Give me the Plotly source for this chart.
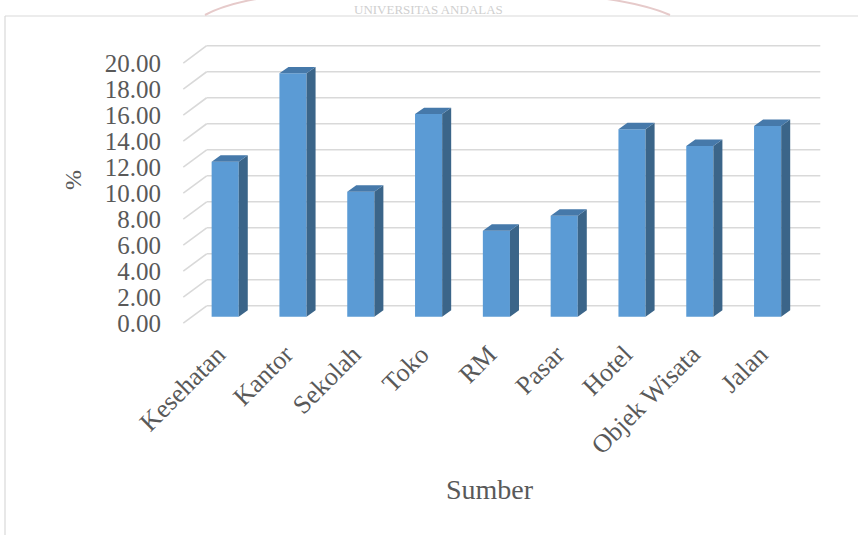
import plotly.graph_objects as go

# ---- data ----
categories = ["Kesehatan", "Kantor", "Sekolah", "Toko", "RM", "Pasar", "Hotel", "Objek Wisata", "Jalan"]
values = [11.92, 18.72, 9.62, 15.59, 6.62, 7.77, 14.42, 13.13, 14.67]
y_ticks = [0, 2, 4, 6, 8, 10, 12, 14, 16, 18, 20]
y_tick_labels = ["%.2f" % v for v in y_ticks]
x_title = "Sumber"
y_title = "%"
watermark = "UNIVERSITAS ANDALAS"

# ---- styling / geometry ----
FRONT = "#5B9BD5"
SIDE = "#3B6589"
TOP = "#4679AA"
GRID = "#D9D9D9"
TEXT = "#595959"
FONT = "Liberation Serif"

W, H = 858, 535
ML, MR, MT, MB = 170, 28, 30, 205
PW, PH = W - ML - MR, H - MT - MB
X_RANGE = [-0.814, 8.92]
Y_RANGE = [-1.02, 22.05]

HALF = 0.2            # half bar width (category units)
BDX, BDY = 0.133, 0.49    # bar depth offset
WDX, WDY = 0.227, 0.84    # back wall offset from bar front plane
FDX, FDY = -0.118, -0.49  # front floor edge offset
LABEL_SHIFT = -0.11       # category label offset (perspective)


def xp(px):
    return (px - ML) / PW


def yp(py):
    return (H - MB - py) / PH


n = len(categories)
xs = list(range(n))

fig = go.Figure()

# front faces
fig.add_trace(go.Bar(x=xs, y=values, width=2 * HALF, marker=dict(color=FRONT, line=dict(width=0)),
                     showlegend=False, hoverinfo="skip"))

# side faces
sx, sy = [], []
for i, v in zip(xs, values):
    r = i + HALF
    sx += [r, r + BDX, r + BDX, r, r, None]
    sy += [0, BDY, v + BDY, v, 0, None]
fig.add_trace(go.Scatter(x=sx, y=sy, mode="lines", fill="toself", fillcolor=SIDE,
                         line=dict(width=0, color=SIDE), showlegend=False, hoverinfo="skip"))

# top faces
tx, ty = [], []
for i, v in zip(xs, values):
    l, r = i - HALF, i + HALF
    tx += [l, l + BDX, r + BDX, r, l, None]
    ty += [v, v + BDY, v + BDY, v, v, None]
fig.add_trace(go.Scatter(x=tx, y=ty, mode="lines", fill="toself", fillcolor=TOP,
                         line=dict(width=0, color=TOP), showlegend=False, hoverinfo="skip"))

# 3D gridlines (back wall + side floor edge)
shapes = []
x_left = -0.5
x_right = n - 0.5
for v in y_ticks:
    shapes.append(dict(type="line", xref="x", yref="y", layer="below",
                       x0=x_left + WDX, y0=v + WDY, x1=x_right + WDX + 0.05, y1=v + WDY,
                       line=dict(color=GRID, width=1.6)))
    shapes.append(dict(type="line", xref="x", yref="y", layer="below",
                       x0=x_left + FDX, y0=v + FDY, x1=x_left + WDX, y1=v + WDY,
                       line=dict(color=GRID, width=1.6)))

# chart border (top + left)
BORDER_Y = 16
shapes.append(dict(type="line", xref="paper", yref="paper", x0=xp(5), y0=yp(BORDER_Y), x1=xp(W + 5), y1=yp(BORDER_Y),
                   line=dict(color=GRID, width=1.2)))
shapes.append(dict(type="line", xref="paper", yref="paper", x0=xp(5), y0=yp(BORDER_Y), x1=xp(5), y1=yp(H + 5),
                   line=dict(color=GRID, width=1.2)))
# watermark seal arcs
shapes.append(dict(type="path", xref="paper", yref="paper",
                   path="M %f %f Q %f %f %f %f" % (xp(205), yp(BORDER_Y - 1), xp(225), yp(4), xp(262), yp(-2)),
                   line=dict(color="#E6CACA", width=2)))
shapes.append(dict(type="path", xref="paper", yref="paper",
                   path="M %f %f Q %f %f %f %f" % (xp(600), yp(-2), xp(645), yp(4), xp(670), yp(BORDER_Y - 1)),
                   line=dict(color="#E6CACA", width=2)))

annotations = [
    dict(text=watermark, xref="paper", yref="paper", x=xp(428), y=yp(1), xanchor="center",
         yanchor="top", showarrow=False, borderpad=0,
         font=dict(family=FONT, size=13, color="#CFCFCF")),
    dict(text=x_title, xref="paper", yref="paper", x=xp(490), y=yp(490), xanchor="center",
         yanchor="middle", showarrow=False, font=dict(family=FONT, size=28, color=TEXT)),
]

fig.update_layout(
    width=W, height=H,
    margin=dict(l=ML, r=MR, t=MT, b=MB),
    paper_bgcolor="white", plot_bgcolor="white",
    shapes=shapes, annotations=annotations,
    showlegend=False,
    font=dict(family=FONT, color=TEXT),
    xaxis=dict(range=X_RANGE, tickvals=[i + LABEL_SHIFT for i in xs], ticktext=categories, tickangle=-45,
               showgrid=False, zeroline=False, showline=False, ticks="",
               tickfont=dict(family=FONT, size=26, color=TEXT), ticklabelstandoff=3),
    yaxis=dict(range=Y_RANGE, tickvals=[v + FDY for v in y_ticks], ticktext=y_tick_labels,
               showgrid=False, zeroline=False, showline=False, ticks="",
               tickfont=dict(family=FONT, size=25, color=TEXT), ticklabelstandoff=8,
               title=dict(text=y_title, font=dict(family=FONT, size=24, color=TEXT), standoff=16)),
)

fig.write_html("out.html")
